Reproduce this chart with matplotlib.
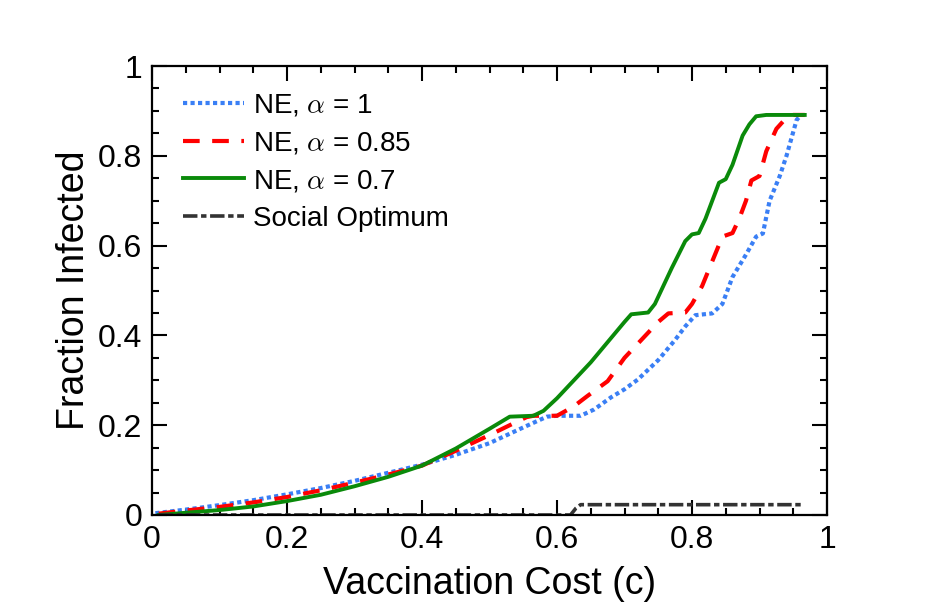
import matplotlib
matplotlib.use("Agg")
import matplotlib.pyplot as plt
from matplotlib.ticker import MultipleLocator, FixedLocator

plt.rcParams['font.family'] = ['Liberation Sans', 'DejaVu Sans']
plt.rcParams['mathtext.fontset'] = 'cm'

# ---- data ----
x_a1 = [0.005, 0.05, 0.1, 0.15, 0.2, 0.25, 0.3, 0.35, 0.4, 0.45, 0.5, 0.55, 0.585, 0.6,
        0.635, 0.655, 0.68, 0.7, 0.72, 0.75, 0.775, 0.79, 0.805, 0.83, 0.845, 0.86,
        0.88, 0.895, 0.905, 0.915, 0.93, 0.94, 0.955, 0.962]
y_a1 = [0.004, 0.012, 0.022, 0.033, 0.046, 0.06, 0.076, 0.094, 0.112, 0.134, 0.16, 0.195,
        0.219, 0.221, 0.221, 0.235, 0.262, 0.28, 0.302, 0.345, 0.39, 0.42, 0.445, 0.449,
        0.47, 0.53, 0.58, 0.62, 0.627, 0.7, 0.755, 0.8, 0.88, 0.891]

x_a085 = [0.01, 0.05, 0.1, 0.15, 0.2, 0.25, 0.3, 0.35, 0.4, 0.45, 0.5, 0.53, 0.555, 0.565,
          0.6, 0.625, 0.645, 0.675, 0.7, 0.725, 0.75, 0.765, 0.79, 0.8, 0.815, 0.83,
          0.845, 0.86, 0.87, 0.88, 0.888, 0.9, 0.91, 0.925, 0.94, 0.95, 0.967]
y_a085 = [0.003, 0.01, 0.018, 0.028, 0.04, 0.055, 0.072, 0.09, 0.11, 0.143, 0.178, 0.2,
          0.218, 0.221, 0.221, 0.242, 0.265, 0.298, 0.35, 0.39, 0.43, 0.449, 0.451, 0.47,
          0.51, 0.565, 0.62, 0.628, 0.66, 0.7, 0.745, 0.755, 0.81, 0.86, 0.885, 0.891, 0.891]

x_a07 = [0.01, 0.05, 0.1, 0.15, 0.2, 0.25, 0.3, 0.35, 0.4, 0.45, 0.5, 0.52, 0.53, 0.565,
         0.58, 0.6, 0.625, 0.65, 0.675, 0.7, 0.71, 0.735, 0.745, 0.77, 0.79, 0.8, 0.81,
         0.82, 0.84, 0.85, 0.86, 0.875, 0.885, 0.895, 0.91, 0.967]
y_a07 = [0.0, 0.005, 0.011, 0.019, 0.031, 0.045, 0.064, 0.085, 0.11, 0.148, 0.192, 0.21,
         0.219, 0.221, 0.232, 0.26, 0.3, 0.34, 0.385, 0.43, 0.447, 0.451, 0.47, 0.55, 0.61,
         0.625, 0.628, 0.66, 0.74, 0.748, 0.78, 0.845, 0.87, 0.888, 0.891, 0.891]

x_so = [0.01, 0.62, 0.628, 0.635, 0.965]
y_so = [0.0, 0.0, 0.015, 0.023, 0.023]

labels = [r'NE, $\alpha$ = 1', r'NE, $\alpha$ = 0.85', r'NE, $\alpha$ = 0.7', 'Social Optimum']
ticks = [0, 0.2, 0.4, 0.6, 0.8, 1]
tick_labels = ['0', '0.2', '0.4', '0.6', '0.8', '1']

fig = plt.figure(figsize=(9.38, 6.13), dpi=100)
ax = fig.add_axes([152/938, 1-515/613, (827-152)/938, (515-66)/613])

ax.plot(x_a1, y_a1, color='#3a7ff5', lw=3.0, linestyle=(0, (1.0, 0.8)), label=labels[0])
ax.plot(x_a085, y_a085, color='#ff0000', lw=3.0, linestyle=(0, (4.0, 3.0)), label=labels[1])
ax.plot(x_a07, y_a07, color='#0a8a0a', lw=2.8, linestyle='-', label=labels[2])
ax.plot(x_so, y_so, color='#333333', lw=2.6, linestyle=(0, (4.0, 1.0, 1.5, 1.0)), label=labels[3])

ax.set_xlim(0, 1)
ax.set_ylim(0, 1)
ax.xaxis.set_major_locator(FixedLocator(ticks))
ax.yaxis.set_major_locator(FixedLocator(ticks))
ax.set_xticklabels(tick_labels)
ax.set_yticklabels(tick_labels)
ax.xaxis.set_minor_locator(MultipleLocator(0.05))
ax.yaxis.set_minor_locator(MultipleLocator(0.05))
ax.tick_params(which='both', direction='in', top=True, right=True, width=1.5, labelsize=23)
ax.tick_params(which='major', length=11, pad=7)
ax.tick_params(which='minor', length=5)
for s in ax.spines.values():
    s.set_linewidth(1.6)

ax.set_xlabel('Vaccination Cost (c)', fontsize=27, labelpad=8)
ax.set_ylabel('Fraction Infected', fontsize=27, labelpad=4)

leg = ax.legend(loc='upper left', frameon=False, fontsize=20, handlelength=2.2,
                handletextpad=0.3, labelspacing=0.42, borderaxespad=0.0,
                bbox_to_anchor=(0.03, 0.965))

fig.savefig('out.png', dpi=100)
